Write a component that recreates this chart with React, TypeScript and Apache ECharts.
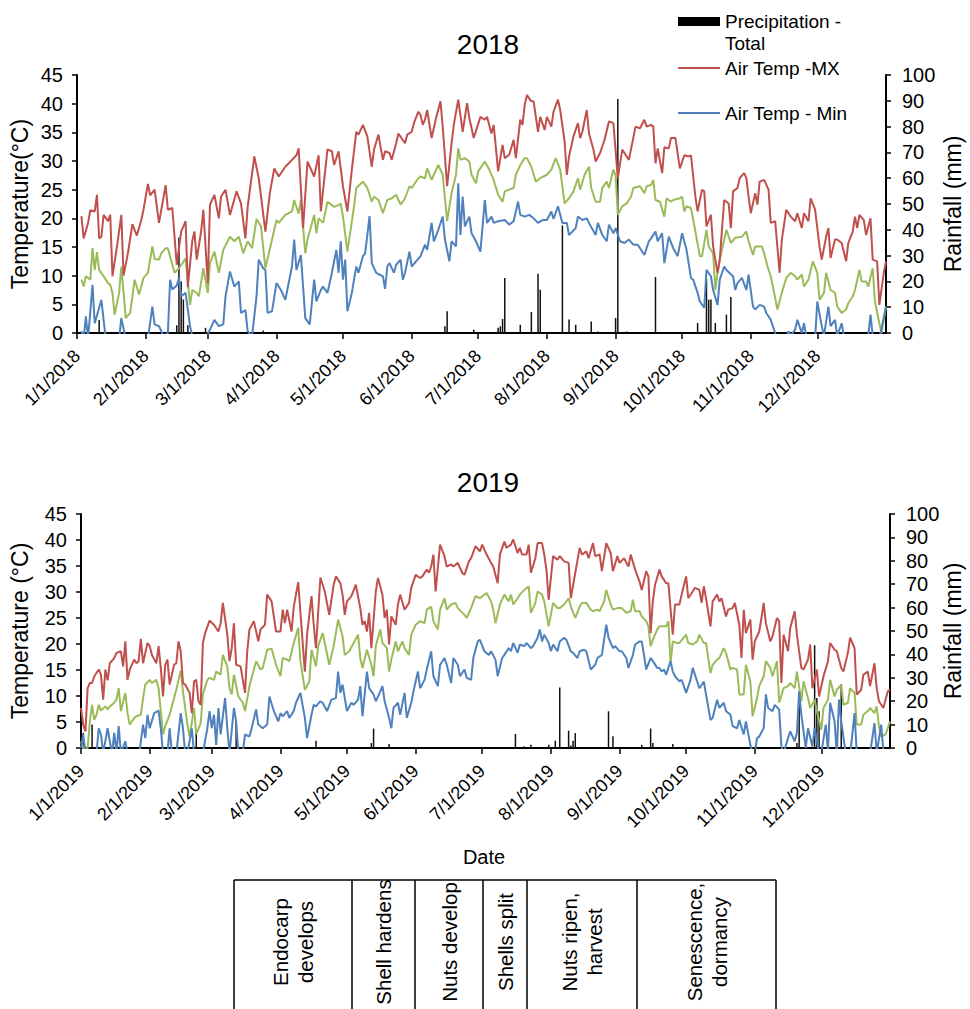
import React, { useEffect, useRef } from 'react';
import * as echarts from 'echarts';

// ---------- tick labels / categories ----------
const monthStartDays = [0, 31, 59, 90, 120, 151, 181, 212, 243, 273, 304, 334];
const tickLabels2018 = ['1/1/2018', '2/1/2018', '3/1/2018', '4/1/2018', '5/1/2018', '6/1/2018', '7/1/2018', '8/1/2018', '9/1/2018', '10/1/2018', '11/1/2018', '12/1/2018'];
const tickLabels2019 = ['1/1/2019', '2/1/2019', '3/1/2019', '4/1/2019', '5/1/2019', '6/1/2019', '7/1/2019', '8/1/2019', '9/1/2019', '10/1/2019', '11/1/2019', '12/1/2019'];
const stageLabels = ['Endocarp\ndevelops', 'Shell hardens', 'Nuts develop', 'Shells split', 'Nuts ripen,\nharvest', 'Senescence,\ndormancy'];
const seriesNames = ['Precipitation - Total', 'Air Temp -MX', 'Air Temp - Min', 'Air Temp - Avg'];

// ---------- 2018 data: [day of year, value] ----------
const max2018 = [[2,20.4],[3,16.5],[5,19.2],[6,21.4],[8,21.2],[9,24.1],[10,16.5],[11,16.8],[12,20.6],[14,19.5],[15,20.6],[16,9.9],[18,15],[20,20.6],[21,10],[23,14],[25,19],[27,17],[29,19.7],[30,21.5],[32,26],[33,24],[35,25],[37,19.2],[40,25.8],[41,21.5],[43,21.8],[45,11.9],[47,17.7],[49,19.5],[50,8],[52,16],[53,17.7],[54,12.8],[56,17.7],[57,21.5],[59,8.7],[60,22.4],[62,24.1],[64,20],[65,23.8],[67,25],[69,20.6],[72,24.7],[74,22.6],[76,16.5],[77,22],[80,30.8],[82,27],[85,17.7],[87,24.4],[89,28.7],[91,27.3],[94,29],[97,30.2],[99,31],[100,32.2],[102,18.3],[104,29.9],[107,27.3],[109,31],[110,21.2],[113,32],[115,31.7],[116,29.3],[118,31.7],[120,25.6],[122,21.2],[124,28.5],[126,35.1],[127,34.6],[129,36.3],[131,34.3],[133,29],[134,32],[136,34.6],[138,30.2],[139,31.7],[141,31.4],[142,30.2],[144,33.1],[145,34.8],[148,33.1],[149,34.6],[151,35.1],[152,36.6],[154,38.6],[155,38],[156,36.3],[157,37.2],[158,38.9],[160,34],[162,37.5],[164,40.4],[165,36],[167,25.6],[169,33.1],[170,36.3],[172,40.7],[173,38],[174,35.1],[176,40.1],[177,37.5],[179,34],[182,37.7],[184,37.2],[185,37.7],[187,34.8],[188,36.3],[190,28.2],[192,32.8],[193,30.5],[195,31.1],[197,33.7],[198,30.5],[200,37.2],[201,36.3],[202,39.8],[203,41.5],[205,40.4],[206,40.4],[208,35.1],[209,37.7],[211,35.4],[212,37.7],[214,36],[215,38.6],[217,40.7],[218,38.9],[220,33.4],[221,27.6],[222,30.8],[224,34.3],[226,36.6],[227,34],[228,35.1],[230,38.9],[231,34.8],[233,32],[234,29.9],[236,31.4],[238,33.7],[240,36.9],[242,36.6],[244,27],[246,32],[247,31.4],[249,30.2],[252,36],[254,35.7],[256,37.2],[257,36],[259,36.3],[260,36],[261,29.6],[262,32.2],[264,27.9],[265,32.4],[267,32.2],[268,34],[270,34],[272,28.7],[274,31],[276,30.8],[277,31],[279,23.8],[280,21.2],[282,25],[283,24.7],[284,18.6],[286,20.6],[287,15.1],[289,10.5],[290,12.8],[291,18],[292,23.2],[294,22.6],[295,18.3],[296,24.7],[298,25.3],[299,27],[301,27.9],[302,27],[303,23.8],[304,20.9],[306,24.4],[307,22.4],[308,26.4],[310,26.7],[312,25],[313,19.2],[315,19.5],[317,10.5],[318,16.3],[320,21.5],[322,20.3],[324,19.5],[325,20.9],[327,18.3],[328,20.9],[330,19.5],[331,23.5],[333,21.5],[335,15.1],[336,12.8],[338,16.8],[339,18.3],[340,13.1],[342,16.3],[343,16.3],[345,15.7],[347,12.5],[348,15.7],[350,17.7],[351,20.3],[352,18.3],[353,20.6],[355,19.7],[356,17.1],[358,20],[359,12.8],[361,12.5],[362,4.9],[364,10.5],[365,12.5]];

const avg2018 = [[2,9.3],[3,8.1],[4,9.9],[6,9.3],[7,14.8],[8,11],[9,14.1],[10,11],[12,9.9],[14,8.7],[15,8.4],[16,7],[17,3.2],[19,7],[20,11.6],[22,2.6],[24,3.5],[26,9.3],[28,6.7],[30,9.6],[32,10.5],[34,15.1],[35,12.9],[37,12.8],[38,13.9],[40,14.8],[41,14.8],[44,10.5],[46,11.3],[49,13],[51,4.9],[52,7.5],[54,7],[55,6.4],[57,11.3],[59,7],[60,12.2],[62,14.2],[64,10.5],[66,14.5],[69,16.8],[71,16],[73,16.8],[75,13.9],[77,16],[79,14.8],[81,19.9],[83,18.6],[85,11.3],[88,16.3],[90,19.7],[91,19.2],[94,20.6],[97,21.2],[98,23.2],[100,20.8],[101,23.2],[103,13.9],[104,16.3],[107,20.6],[108,17.4],[109,20],[111,19.2],[113,22.9],[116,22],[118,22.3],[119,22.6],[120,20.3],[122,14.2],[125,22.1],[126,25.3],[129,26.4],[131,25.3],[133,22.9],[134,23.8],[136,23.2],[138,20.9],[140,23.2],[142,23.5],[144,24.1],[146,22.4],[148,23.5],[150,25.6],[151,25.3],[154,27],[155,27.3],[157,27],[158,28.7],[160,26.7],[161,27.6],[163,29.3],[165,27.6],[167,19.5],[169,24.4],[171,27.6],[172,32.2],[173,30.2],[175,30.5],[177,29.9],[178,27.6],[180,26.1],[181,28.2],[184,29.9],[186,28.5],[188,26.7],[190,24.1],[192,22.9],[193,24.7],[195,25],[197,25.3],[198,27.6],[200,29.3],[202,30.5],[203,30.5],[205,29],[207,26.4],[209,27],[212,27.6],[214,28.5],[216,30.5],[218,28.5],[220,22.6],[222,23.5],[224,24.7],[226,27],[227,25],[229,27.6],[231,29],[232,25.3],[234,22.9],[236,22.9],[237,25.3],[239,26.4],[240,25.3],[242,28.5],[243,27.5],[244,20.6],[246,22.1],[248,22.6],[250,23.8],[251,25.3],[254,25.6],[256,24.4],[257,25.6],[259,25.8],[260,26.7],[261,23.2],[263,22.9],[265,20.3],[266,23.5],[268,22.9],[269,23.2],[272,23.5],[273,23.8],[274,21.2],[275,22.1],[277,21.8],[279,17.7],[281,13.4],[282,13.4],[284,18],[285,15.1],[287,13.9],[288,7.5],[289,10.5],[290,12.8],[293,18],[295,15.7],[297,16.6],[300,16.8],[302,17.7],[303,16],[305,13.6],[306,15.1],[309,15.1],[310,13.9],[312,11],[313,9.9],[315,6.1],[316,4.1],[318,7],[320,9.6],[322,10.5],[324,9.9],[325,9.3],[327,10.2],[328,8.1],[330,9.3],[332,12.5],[334,10.5],[335,5.8],[337,7],[338,10.5],[340,7.5],[342,7],[343,4.6],[345,3.5],[347,4.1],[348,5.2],[350,6.4],[351,7.5],[353,11],[354,9],[356,9],[357,8.1],[359,11.3],[360,5.5],[362,1.7],[363,0],[365,4.6]];

const min2018 = [[2,0.3],[3,-1],[4,2.9],[5,-1],[7,8.4],[8,1.7],[10,4.4],[11,5.8],[12,2.3],[13,-1],[15,-2],[17,-1],[19,-1],[20,2.6],[22,-1],[24,-2],[29,-2],[32,-1],[34,4.6],[35,1.5],[37,1.2],[39,-0.5],[41,0],[42,9.3],[43,7.6],[45,8.3],[46,9.6],[47,6.4],[49,7],[51,1.2],[52,-0.5],[58,-1],[60,0.6],[62,2.3],[64,1.2],[66,1.5],[67,6.4],[69,10.7],[71,8.1],[73,9],[74,3.5],[76,4],[77,0.3],[79,-0.5],[81,6.4],[82,12.8],[84,11.3],[85,11],[86,3.5],[88,3.8],[90,8.7],[92,7.5],[94,5.8],[97,11.6],[98,16.3],[99,11],[101,13.6],[103,2.6],[105,1.5],[107,9.3],[108,5.5],[110,7.5],[111,8.1],[113,7],[115,10.5],[117,14.5],[118,10.5],[119,16],[120,9.3],[121,12.8],[122,3.8],[124,7],[126,11.6],[127,10.5],[129,13.4],[130,13.9],[132,20.4],[133,12.2],[135,10.5],[138,9.9],[139,7.7],[140,11.6],[141,12.2],[143,10.5],[144,11.9],[146,12.8],[147,9.3],[148,10.5],[150,14.2],[151,11.6],[153,12.5],[155,13.4],[157,15.4],[158,14.5],[160,19.2],[161,16],[163,18],[165,20.3],[166,16.3],[168,12.5],[169,16],[171,15.1],[172,26.1],[173,17.1],[174,23.8],[175,18.6],[177,20.3],[178,17.4],[180,16],[182,14.2],[184,23.2],[185,19.2],[187,20.3],[188,19.2],[190,19.5],[193,19.7],[195,18.9],[197,19.5],[199,22.9],[200,20.6],[202,20.3],[204,20.6],[206,20],[208,19.2],[210,19.7],[212,19.7],[214,21.2],[215,19.9],[217,22.1],[219,19.2],[221,19.2],[222,17.1],[225,18.3],[226,20.3],[228,19.7],[230,20],[231,19.2],[234,17.1],[235,19.2],[237,17.1],[239,16],[240,18.9],[242,17.4],[243,18.3],[245,16],[247,15.7],[249,16.3],[251,15.4],[253,15.4],[256,13.6],[258,16],[259,16.5],[261,17.7],[262,16],[264,17.4],[265,12.2],[267,16.8],[269,14.8],[271,13.4],[272,15.4],[273,17.4],[275,14.5],[277,9.6],[278,9.3],[280,7],[281,5.5],[283,4.4],[284,11],[286,9.9],[287,7.5],[289,4.9],[290,9.3],[292,11.6],[293,11],[296,9.9],[297,7.5],[298,8.7],[300,9.6],[302,7.5],[303,10.2],[305,4.6],[306,4.1],[308,4.9],[310,4.6],[311,3.5],[313,2.3],[315,0],[316,-1],[319,-1.5],[321,0.3],[322,-0.5],[324,0.6],[325,2.3],[327,0],[328,1.7],[329,-0.5],[333,-1],[334,5.5],[336,1.2],[337,-0.5],[339,4.6],[340,1.2],[342,2.3],[343,-0.5],[345,1.7],[346,-0.5],[351,-1.5],[357,-0.5],[358,3.2],[359,-0.5],[362,-1],[365,4.6]];

const rain2018 = [[10,5],[45,3],[46,37],[47,20],[48,13],[50,3],[58,2],[84,1],[166,2.6],[167,8.4],[179,1.3],[190,2],[191,2.6],[192,5.4],[193,21.3],[200,3.2],[205,8.1],[208,23],[209,16.8],[219,41.7],[222,5.2],[225,3.2],[232,4.5],[235,0.6],[243,5.8],[244,90.7],[248,0.6],[261,21.7],[280,3.9],[284,21],[285,12.9],[286,13],[288,3.9],[293,7.1],[295,14]];

// ---------- 2019 data: [day of year, value] ----------
const max2019 = [[0,7.7],[1,4.5],[2,3.2],[3,11.5],[4,12.5],[5,12.5],[6,13.8],[8,15.1],[9,14.1],[10,9.3],[11,15.1],[12,13],[13,16.3],[15,17.3],[16,18.3],[18,18.6],[19,15.7],[20,20.5],[21,13.1],[22,15.1],[24,17],[25,16.3],[26,16.7],[27,21],[28,16.3],[30,20.2],[31,19.6],[32,17.9],[34,16.3],[35,19.6],[36,15.4],[37,9.9],[38,16],[39,17],[40,12.2],[42,16],[43,16.3],[44,20.5],[45,18.6],[46,12.5],[47,12.2],[49,10.6],[50,6.7],[51,12.8],[52,13.1],[53,9],[54,8.3],[55,20.2],[56,22.1],[58,24.5],[60,23.7],[62,22.4],[63,24],[64,27.9],[66,21.8],[67,16.7],[68,19.2],[69,24],[70,16],[72,15.7],[74,10.6],[75,18.6],[76,22.8],[78,24.4],[80,20.5],[81,22.8],[83,23.7],[84,29.5],[86,28.2],[88,22.4],[90,22.4],[91,26.6],[92,24],[93,26.6],[95,22.4],[96,27.2],[98,31.9],[99,26],[101,14.7],[102,21.8],[104,29.2],[105,23.7],[106,19.2],[108,32.8],[110,30.1],[112,25.6],[114,31.4],[115,33],[117,31.7],[118,29.5],[119,25.6],[120,28.2],[122,29.2],[124,31.4],[126,26.9],[127,23.7],[128,24.4],[129,22.4],[130,26],[131,19.2],[133,30.1],[134,32.7],[136,29.5],[137,25],[138,26.6],[139,19.9],[140,25.3],[142,23.7],[143,27.6],[144,29.5],[146,26.6],[148,27.9],[149,30.8],[151,33.3],[153,32.7],[154,33],[156,34.3],[157,33.7],[158,34.9],[159,37.2],[160,30.1],[162,39.1],[164,36.9],[165,34.9],[167,35.3],[168,34.9],[170,35.6],[172,33.7],[173,33.3],[175,35.9],[176,36.5],[178,38.8],[180,37.8],[181,39.1],[183,37.2],[185,35.6],[186,34.9],[188,31.7],[189,37.2],[191,39.7],[192,38.5],[194,39.1],[195,40.1],[197,37.5],[198,38.5],[199,37.2],[201,37.2],[202,39.1],[203,33.7],[205,36.5],[206,39.4],[208,39.4],[209,37.2],[210,34.3],[211,28.5],[213,36.9],[215,36.2],[216,36.9],[218,35.9],[220,35.6],[221,28.8],[223,33.7],[225,38.5],[226,37.2],[228,37.8],[229,36.5],[231,39.4],[232,36.9],[234,37.2],[235,34],[237,39.4],[239,37.5],[240,34],[242,36.9],[243,35.6],[245,36.5],[247,34.9],[248,37.2],[250,34.3],[252,32],[253,30.4],[255,34],[256,33],[257,22.1],[258,28.2],[259,31.4],[261,34.3],[262,33],[264,31.7],[265,31.7],[267,21.8],[268,27.6],[270,27.6],[271,29.5],[273,33],[274,28.8],[276,30.1],[277,30.8],[279,30.4],[280,27.9],[281,31.1],[282,28.8],[284,23.4],[285,28.2],[287,29.5],[288,28.2],[289,28.8],[291,25.3],[292,26.6],[294,26.9],[295,27.9],[297,23.7],[298,17.3],[299,26.6],[300,22.1],[302,24.7],[303,17],[304,20.5],[306,22.4],[307,25],[308,27.9],[309,24],[311,20.5],[312,21.5],[314,25],[315,24.4],[316,12.5],[317,21.8],[319,18.6],[320,23.1],[322,26.3],[323,21.8],[325,15.4],[326,15.1],[328,17],[329,19.9],[330,11.5],[332,15.1],[333,9.9],[335,13.8],[337,16.7],[338,20.2],[340,18.9],[341,18.6],[343,15.4],[344,14.7],[346,18.3],[347,21.2],[349,19.2],[350,10.3],[352,11.2],[353,14.1],[355,14.7],[356,11.9],[358,16.3],[359,11.5],[360,9],[362,7.7],[364,10.9],[365,11.2]];

const avg2019 = [[0,1.3],[1,0],[2,-0.5],[3,0],[4,5.1],[5,8.3],[6,5.4],[7,6.4],[8,8.3],[9,7.2],[11,8],[12,7.4],[13,8],[15,8.7],[16,9.3],[17,11.5],[18,7.1],[20,10.6],[21,6.7],[22,4.5],[24,5.8],[25,6.1],[27,6.4],[28,9.6],[29,12.2],[31,13.1],[32,12.5],[34,13.1],[35,11.5],[37,2.6],[38,4.2],[40,6.4],[42,9.6],[43,11.2],[45,14.9],[46,10.9],[48,4.5],[49,2.2],[51,7.7],[52,2.6],[54,4.8],[55,10.3],[57,13.1],[58,13.5],[60,13.1],[61,14.7],[63,14.1],[64,17.9],[66,15.7],[67,11.5],[68,10.3],[69,14.1],[71,9.9],[73,8.7],[74,7.1],[76,11.9],[77,13.5],[79,16.7],[81,15.1],[82,15.4],[84,18.9],[86,19.1],[88,16],[90,13.8],[91,17.3],[93,17],[94,16.7],[96,20.2],[98,23.1],[99,16.7],[101,11.2],[103,12.8],[104,18.9],[106,15.7],[107,19.6],[109,22.1],[110,20.2],[112,16],[114,19.6],[116,24.7],[118,21.5],[119,17.9],[121,18.6],[123,20.2],[125,21.8],[126,17.3],[127,15.4],[129,18.9],[131,16],[132,13.8],[133,19.6],[135,22.8],[136,20.2],[138,19.2],[139,14.7],[140,17],[142,20.5],[143,18.6],[145,20.5],[146,19.2],[148,17.9],[149,21.8],[151,23.7],[153,24.4],[155,24],[156,26.6],[158,27.2],[159,24.4],[161,22.8],[162,26.6],[164,28.8],[165,26.6],[167,27.6],[169,27.9],[170,26.9],[173,25.6],[174,25],[176,26.9],[178,29.2],[180,28.8],[182,29.5],[183,29.8],[185,28.2],[186,26.6],[187,24],[189,27.6],[191,29.5],[193,28.2],[194,29.5],[195,27.6],[197,28.8],[198,29.5],[200,30.4],[202,31.1],[203,26],[205,27.9],[206,30.1],[208,29.5],[209,28.2],[211,23.4],[213,27.9],[215,26.9],[216,26.9],[218,27.6],[220,28.8],[221,27.2],[223,25],[225,27.2],[226,27.9],[228,27.9],[230,26.6],[231,26.3],[233,26.6],[234,26.3],[236,28.2],[237,30.4],[239,27.6],[240,26.6],[242,26.9],[244,26.9],[246,26],[248,26.3],[249,28.5],[250,26.3],[252,26.3],[253,25.3],[255,24.4],[256,23.4],[257,19.6],[258,20.8],[260,22.8],[261,23.4],[264,23.4],[265,24.4],[266,16.3],[267,20.5],[269,20.2],[270,20.2],[273,21.8],[274,20.2],[276,19.9],[278,20.5],[279,21.8],[281,20.2],[282,20.2],[284,14.4],[285,16],[287,17],[288,17.3],[290,19.2],[291,18.3],[293,15.1],[294,15.4],[296,15.1],[297,10.3],[299,10.3],[300,16],[302,12.8],[303,6.1],[305,9.6],[306,11.9],[308,13.8],[309,16.7],[311,15.4],[312,13.8],[314,16.7],[315,8.7],[317,11.5],[319,11.9],[320,12.5],[322,11.5],[323,14.7],[325,9],[326,12.8],[328,9.6],[329,7.7],[331,9.3],[332,7.1],[334,3.5],[335,7.7],[337,9.3],[338,13.1],[340,9.9],[341,11.2],[343,12.2],[344,8.3],[346,8.7],[347,11.5],[349,10.6],[350,4.5],[352,4.5],[353,6.4],[355,7.1],[356,7.7],[358,6.7],[359,8],[360,4.2],[361,2.2],[363,2.6],[365,5.1]];

const min2019 = [[0,0],[1,2.6],[2,-1],[3,-1.5],[5,-2],[7,-1],[8,3.8],[9,2.6],[10,-1],[12,3.8],[13,1.3],[14,-1],[15,2.9],[16,-1],[17,4.2],[18,-1],[20,1.3],[21,-1],[23,-2],[26,-2],[28,4.5],[29,1.9],[30,6.4],[31,3.8],[33,6.7],[35,7.2],[36,3.8],[37,-1],[39,-1],[40,3.8],[41,-1],[43,-1],[45,6.7],[46,3.8],[47,-1],[48,-1],[50,3.8],[51,-1],[53,-1],[55,-1],[57,3.8],[58,7.1],[59,3.8],[60,6.4],[61,0.6],[62,7.7],[63,2.6],[65,9.6],[66,3.8],[67,-1],[69,7.7],[70,5.1],[71,-1],[73,-1],[74,2.6],[76,2.2],[77,3.8],[79,7.4],[80,4.5],[82,3.8],[84,4.5],[85,9.9],[87,7.1],[89,5.1],[90,6.7],[91,6.1],[93,7.1],[94,5.8],[96,7.1],[97,8.7],[99,10.6],[101,5.8],[102,1.9],[104,6.4],[105,8.3],[106,8],[108,9],[109,8.7],[111,7.1],[113,9.3],[115,9.6],[116,14.7],[117,10.6],[118,12.2],[120,7.1],[122,8.7],[123,8.3],[125,9.3],[126,11.9],[127,6.1],[129,14.7],[130,11.5],[132,10.3],[133,9],[134,9.9],[136,11.9],[137,9],[139,5.8],[140,3.8],[141,7.7],[143,8.7],[144,6.4],[146,10.6],[147,5.8],[149,8.7],[150,10.9],[152,14.7],[153,11.5],[155,13.1],[156,15.1],[158,18.6],[159,13.8],[161,11.9],[162,16],[164,17.3],[165,16],[167,12.5],[168,17.3],[170,16],[171,13.8],[173,15.1],[174,13.5],[176,13.1],[177,17.3],[179,20.5],[180,20.8],[182,18.6],[184,17.9],[185,18.6],[187,17],[188,13.8],[190,17.3],[191,17.9],[193,19.2],[194,18.6],[195,20.2],[197,18.3],[198,19.9],[200,19.6],[201,20.2],[203,19.2],[204,19.6],[206,21.2],[207,22.8],[208,20.5],[209,21.8],[211,20.2],[212,18.6],[213,19.9],[215,18.6],[216,20.5],[218,21.2],[219,20.8],[221,18.6],[222,18.3],[224,17.3],[225,18.6],[227,18.9],[228,18.6],[230,15.1],[232,16],[233,17.3],[235,17.9],[237,23.7],[238,21.2],[240,19.2],[241,19.6],[243,18.6],[244,18.6],[246,17.3],[247,15.4],[249,17.9],[250,19.9],[252,20.5],[253,20.5],[254,17.9],[255,15.1],[257,17.3],[258,16.7],[260,15.4],[261,15.4],[262,14.7],[263,15.1],[264,14.1],[266,16.7],[267,14.7],[268,13.8],[270,12.8],[271,13.1],[272,11.9],[273,10.6],[275,13.1],[276,15.4],[278,12.8],[279,11.5],[281,12.8],[282,10.3],[284,5.4],[285,5.8],[287,9.3],[288,7.7],[290,8.7],[291,7.1],[293,6.4],[294,4.2],[296,3.8],[297,5.4],[299,2.6],[300,5.1],[302,0.6],[303,-1],[304,-1],[305,1.9],[306,2.2],[308,3.8],[309,10.3],[310,7.7],[312,7.1],[313,8.3],[315,7.4],[316,0.3],[317,-1],[319,1.9],[320,3.2],[322,1.3],[323,2.9],[324,10.9],[325,6.4],[327,0],[328,3.8],[330,0.3],[331,3.8],[333,-1],[334,-1],[336,4.5],[337,-0.5],[338,8.7],[340,5.1],[341,-1],[342,9.3],[343,5.1],[345,-1],[347,-1.5],[349,6.7],[350,-1],[353,-2],[356,-1],[358,4.8],[359,-1],[361,4.5],[362,-0.5],[364,-1]];

const rain2019 = [[1,6.4],[5,10],[52,7.8],[70,11.4],[106,3.1],[131,2.1],[132,8.3],[139,1.7],[196,6],[200,0.7],[203,1.4],[211,1.4],[214,3.1],[216,25.9],[220,7.4],[221,1.1],[222,3.1],[223,6.4],[238,15.7],[240,5],[253,1.4],[257,8.3],[258,2.1],[267,1.7],[323,2.1],[324,20],[331,43.9],[332,21.4],[333,15.7],[343,27.4]];

// ---------- styling ----------
const FONT = "'Liberation Sans', Arial, sans-serif";
const RED = '#C0504D';
const GREEN = '#9BBB59';
const BLUE = '#4F81BD';

function xAxisFor(gridIndex: number, labels: string[]) {
  return {
    type: 'value',
    gridIndex,
    min: 0,
    max: 365,
    splitLine: { show: false },
    axisLine: { show: true, onZero: false, lineStyle: { color: '#000', width: 2 } },
    axisTick: { show: true, customValues: monthStartDays, length: 6, lineStyle: { color: '#000', width: 1.5 } },
    axisLabel: {
      customValues: monthStartDays,
      rotate: 45,
      margin: 20,
      fontSize: 18,
      fontFamily: FONT,
      color: '#000',
      formatter: (v: number) => {
        const i = monthStartDays.indexOf(Math.round(v));
        return i >= 0 ? labels[i] : '';
      },
    },
  };
}

function tempAxis(gridIndex: number) {
  return {
    type: 'value',
    gridIndex,
    position: 'left',
    min: 0,
    max: 45,
    interval: 5,
    splitLine: { show: false },
    axisLine: { show: true, lineStyle: { color: '#000', width: 2 } },
    axisTick: { show: true, length: 5, lineStyle: { color: '#000', width: 1.5 } },
    axisLabel: { margin: 14, fontSize: 20, fontFamily: FONT, color: '#000' },
  };
}

function rainAxis(gridIndex: number) {
  return {
    type: 'value',
    gridIndex,
    position: 'right',
    min: 0,
    max: 100,
    interval: 10,
    splitLine: { show: false },
    axisLine: { show: true, lineStyle: { color: '#000', width: 2 } },
    axisTick: { show: true, length: 5, lineStyle: { color: '#000', width: 1.5 } },
    axisLabel: { margin: 16, fontSize: 20, fontFamily: FONT, color: '#000' },
  };
}

function lineSeries(name: string, data: number[][], color: string, xi: number, yi: number, z: number) {
  return {
    name,
    type: 'line',
    xAxisIndex: xi,
    yAxisIndex: yi,
    data,
    showSymbol: false,
    symbol: 'none',
    clip: true,
    z,
    lineStyle: { color, width: 2 },
    itemStyle: { color },
  };
}

function barSeries(name: string, data: number[][], xi: number, yi: number) {
  return {
    name,
    type: 'bar',
    xAxisIndex: xi,
    yAxisIndex: yi,
    data,
    barWidth: 1.5,
    z: 1,
    itemStyle: { color: '#111' },
  };
}

function txt(text: string, x: number, y: number, fontSize: number, opts: any = {}) {
  return {
    type: 'text',
    x,
    y,
    rotation: opts.rotation || 0,
    style: {
      text,
      fontSize,
      fontFamily: FONT,
      fill: '#000',
      align: opts.align || 'center',
      verticalAlign: 'middle',
      lineHeight: opts.lineHeight || fontSize * 1.2,
    },
  };
}

function hline(x1: number, y1: number, x2: number, y2: number, color = '#000', width = 1.5) {
  return { type: 'line', shape: { x1, y1, x2, y2 }, style: { stroke: color, lineWidth: width } };
}

export default function App() {
  const ref = useRef<HTMLDivElement>(null);

  useEffect(() => {
    if (!ref.current) return;
    const chart = echarts.init(ref.current, null, { renderer: 'svg' });

    const colEdges = [234, 352, 415, 483, 527, 637, 776];
    const tableTop = 880;
    const tableGraphics: any[] = [hline(colEdges[0], tableTop, colEdges[colEdges.length - 1], tableTop)];
    colEdges.forEach((x) => tableGraphics.push(hline(x, tableTop, x, 1012)));
    stageLabels.forEach((label, i) => {
      const cx = (colEdges[i] + colEdges[i + 1]) / 2;
      tableGraphics.push(txt(label, cx, 942, 20.5, { rotation: Math.PI / 2, lineHeight: 25 }));
    });

    const option: any = {
      animation: false,
      backgroundColor: '#fff',
      grid: [
        { left: 77, top: 75, width: 809, height: 258, containLabel: false },
        { left: 81, top: 514, width: 809, height: 234, containLabel: false },
      ],
      xAxis: [xAxisFor(0, tickLabels2018), xAxisFor(1, tickLabels2019)],
      yAxis: [tempAxis(0), rainAxis(0), tempAxis(1), rainAxis(1)],
      series: [
        barSeries(seriesNames[0], rain2018, 0, 1),
        lineSeries(seriesNames[3], avg2018, GREEN, 0, 0, 2),
        lineSeries(seriesNames[2], min2018, BLUE, 0, 0, 3),
        lineSeries(seriesNames[1], max2018, RED, 0, 0, 4),
        barSeries(seriesNames[0] + ' 2019', rain2019, 1, 3),
        lineSeries(seriesNames[3] + ' 2019', avg2019, GREEN, 1, 2, 2),
        lineSeries(seriesNames[2] + ' 2019', min2019, BLUE, 1, 2, 3),
        lineSeries(seriesNames[1] + ' 2019', max2019, RED, 1, 2, 4),
      ],
      graphic: [
        // titles
        txt('2018', 488, 44, 28),
        txt('2019', 488, 482, 28),
        // axis names
        txt('Temperature(°C)', 20, 204, 23, { rotation: Math.PI / 2 }),
        txt('Rainfall (mm)', 953, 204, 23, { rotation: Math.PI / 2 }),
        txt('Temperature (°C)', 20, 631, 23, { rotation: Math.PI / 2 }),
        txt('Rainfall (mm)', 953, 631, 23, { rotation: Math.PI / 2 }),
        // legend
        { type: 'rect', shape: { x: 678, y: 17, width: 42, height: 9 }, style: { fill: '#000' } },
        txt('Precipitation -', 725, 21, 19, { align: 'left' }),
        txt('Total', 725, 43, 19, { align: 'left' }),
        hline(678, 68, 720, 68, RED, 2),
        txt(seriesNames[1], 725, 68, 19, { align: 'left' }),
        hline(678, 113, 720, 113, BLUE, 2),
        txt(seriesNames[2], 725, 113, 19, { align: 'left' }),
        // x axis title
        txt('Date', 484, 857, 20),
        ...tableGraphics,
      ],
    };

    chart.setOption(option);
    return () => chart.dispose();
  }, []);

  return <div ref={ref} style={{ position: 'absolute', left: 0, top: 0, width: 970, height: 1009 }} />;
}
